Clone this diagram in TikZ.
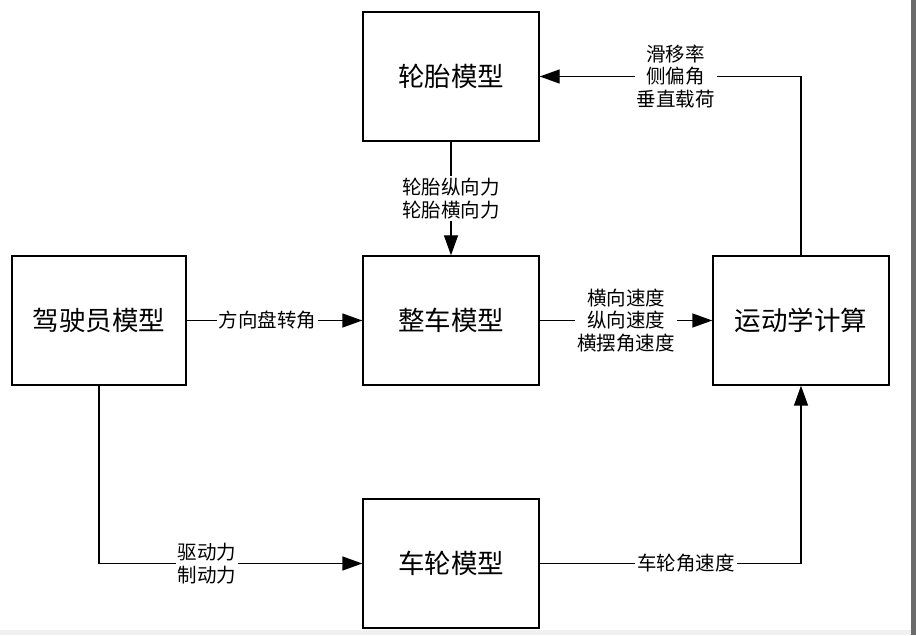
\documentclass[tikz,border=0pt]{standalone}
\usepackage{fontspec}
\usepackage{tikz}
\usetikzlibrary{positioning, arrows.meta}
\newfontfamily\cjk{Noto Sans CJK SC}
\def\boxfont{\cjk\fontsize{26.5}{30}\selectfont}
\def\lblfont{\cjk\fontsize{19.5}{22.5}\selectfont}
\tikzset{
	model/.style={draw, line width=1.4pt, minimum width=176pt, minimum height=129pt, font=\boxfont},
	lbl/.style={fill=white, font=\lblfont, align=center, inner sep=2pt},
	flow/.style={line width=1.4pt, -{Triangle[length=20pt,width=14pt]}}
}

\begin{document}
\begin{tikzpicture}[x=1pt, y=1pt]
	\useasboundingbox (0,0) rectangle (916,635);
	\fill[white] (0,0) rectangle (916,635);
	\fill[gray!12] (0,0) rectangle (916,5);
	\fill[black!58] (911,0) rectangle (916,635);

	\node[model, minimum width=174pt] (driver) at (99,314.5) {驾驶员模型};
	\node[model, right=175.6pt of driver] (vehicle) {整车模型};
	\node[model, right=172.6pt of vehicle] (kinematics) {运动学计算};
	\node[model, above=113.6pt of vehicle] (tire) {轮胎模型};
	\node[model, below=112.6pt of vehicle] (wheel) {车轮模型};

	\draw[flow] (driver) -- node[lbl, pos=0.46] {方向盘转角} (vehicle);
	\draw[flow] (vehicle) -- node[lbl] {横向速度\\纵向速度\\横摆角速度} (kinematics);
	\draw[flow] (tire) -- node[lbl] {轮胎纵向力\\轮胎横向力} (vehicle);
	\draw[flow] (kinematics.north) |- node[lbl, pos=0.74] {滑移率\\侧偏角\\垂直载荷} (tire.east);
	\draw[flow] (driver.south) |- node[lbl, pos=0.705] {驱动力\\制动力} (wheel.west);
	\draw[flow] (wheel.east) -| node[lbl, pos=0.28] {车轮角速度} (kinematics.south);
\end{tikzpicture}
\end{document}
